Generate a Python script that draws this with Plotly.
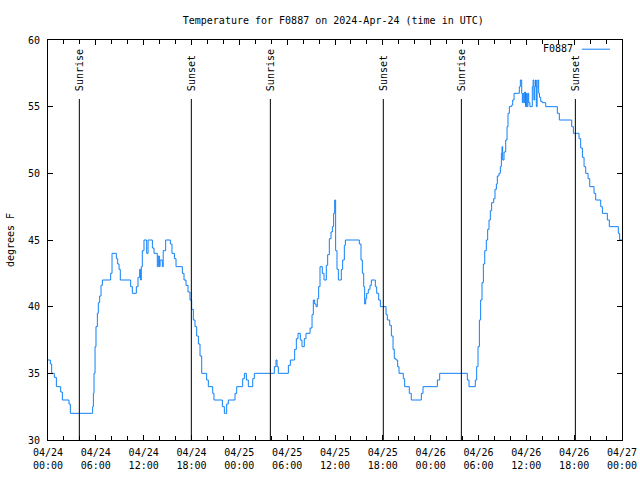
import pandas as pd
import plotly.graph_objects as go

# ---- data (hours after 2024-04-24 00:00 UTC, temperature in F) ----
hours = [
    0.00, 0.29, 0.46, 0.79, 1.05, 1.59, 1.80, 2.63, 2.80, 5.60, 5.69, 5.77, 5.90, 6.02, 6.19,
    6.31, 6.48, 6.65, 6.82, 7.86, 8.03, 8.57, 8.74, 8.91, 9.07, 10.37, 10.58, 11.08, 11.29, 11.50,
    11.62, 11.70, 11.83, 12.04, 12.38, 12.55, 13.09, 13.30, 13.71, 13.84, 13.97, 14.06, 14.34,
    14.45, 14.76, 15.35, 15.55, 15.85, 16.06, 16.85, 17.06, 17.31, 17.56, 17.81, 18.02,
    18.23, 18.44, 18.65, 18.86, 19.07, 19.28, 19.90, 20.11, 20.66, 20.82, 21.87, 22.12, 22.41, 22.62,
    23.46, 23.67, 24.42, 24.63, 24.88, 25.13, 25.68, 25.88, 28.39, 28.60, 28.73, 28.89, 30.15, 30.40,
    30.94, 31.15, 31.36, 31.65, 31.86, 32.15, 32.36, 32.87, 33.12, 33.28, 33.45, 33.62, 33.78, 33.95,
    34.12, 34.41, 34.62, 34.91, 35.08, 35.29, 35.50, 35.67, 35.83, 35.96, 36.08, 36.25, 36.42, 36.79,
    36.96, 37.17, 37.30, 39.05, 39.26, 39.43, 39.60, 39.72, 39.85, 39.97, 40.18, 40.39, 40.56, 41.06,
    41.23, 41.48, 41.69, 42.40, 42.56, 42.86, 43.07, 43.28, 43.44, 43.65, 43.86, 44.03, 44.57, 44.74,
    45.32, 45.57, 46.83, 47.04, 48.84, 49.13, 52.60, 52.81, 53.60, 53.77, 53.94, 54.11, 54.27, 54.44,
    54.61, 54.78, 54.98, 55.15, 55.32, 55.48, 55.65, 55.90, 56.07, 56.24, 56.36, 56.57, 56.74, 56.87,
    56.95, 57.03, 57.20, 57.41, 57.58, 57.70, 57.87, 58.12, 58.29, 58.46, 59.12, 59.25, 59.42, 59.50,
    59.60, 59.70, 59.80, 59.90, 60.00, 60.10, 60.20, 60.30, 60.45, 60.75, 60.85, 60.95, 61.05, 61.15,
    61.25, 61.35, 61.45, 61.55, 61.65, 61.80, 62.00, 62.43, 63.89, 64.14, 65.69, 65.90, 66.61, 66.82,
    67.03, 67.24, 67.45, 67.74, 67.95, 68.49, 68.70, 69.33, 69.54, 70.16, 70.41, 71.54, 71.71, 72.00,
]
temps = [
    36.0, 35.7, 35.0, 34.7, 34.0, 33.6, 33.0, 32.7, 32.0, 32.5, 33.5, 35.0, 37.0, 38.5, 39.5,
    40.3, 40.8, 41.6, 42.0, 42.5, 44.0, 43.6, 43.2, 42.8, 42.0, 41.5, 41.0, 41.5, 42.2, 42.8,
    42.0, 43.0, 44.2, 45.0, 44.0, 45.0, 44.4, 44.0, 43.0, 43.8, 43.0, 43.5, 43.0,
    44.2, 45.0, 44.7, 44.0, 43.6, 43.0, 42.5, 42.0, 41.6, 41.1, 40.5, 39.8,
    39.0, 38.5, 37.8, 37.2, 36.3, 35.0, 34.5, 34.0, 33.5, 33.0, 32.5, 32.0, 32.7, 33.0,
    33.5, 34.0, 34.6, 35.0, 34.5, 34.0, 34.6, 35.0, 35.5, 36.0, 35.5, 35.0, 35.6, 36.0,
    36.8, 37.6, 38.0, 37.5, 37.0, 37.6, 38.0, 38.4, 39.4, 40.5, 40.2, 40.0, 40.6, 41.5,
    43.0, 42.5, 42.0, 43.1, 43.9, 45.1, 45.6, 46.0, 47.0, 48.0, 44.2, 42.8, 42.0, 42.8,
    43.5, 44.6, 45.0, 44.7, 43.5, 42.5, 41.5, 40.2, 40.6, 41.0, 41.3, 41.6, 42.0, 41.5,
    41.0, 40.5, 40.0, 39.4, 39.0, 38.6, 37.8, 36.8, 36.1, 36.0, 35.5, 35.0, 34.6, 34.0,
    33.5, 33.0, 33.5, 34.0, 34.5, 35.0, 34.5, 34.0, 34.5, 35.5, 37.0, 39.0, 40.5, 41.8,
    43.2, 44.2, 45.0, 45.8, 46.5, 47.2, 47.8, 48.1, 48.8, 49.2, 49.8, 50.0, 50.5, 51.5,
    52.0, 51.0, 51.6, 52.5, 53.5, 54.5, 55.0, 55.1, 55.5, 56.0, 56.5, 57.0, 56.0, 55.3,
    56.0, 55.3, 56.1, 55.0, 56.0, 55.0, 56.0, 55.3, 55.0, 56.5, 57.0, 55.5, 56.5, 57.0,
    55.0, 56.5, 57.0, 56.0, 55.7, 55.4, 55.3, 55.0, 54.5, 54.0, 53.5, 53.0, 52.6, 51.9,
    51.2, 50.5, 50.0, 49.6, 49.0, 48.5, 48.0, 47.5, 47.0, 46.5, 46.0, 45.5, 45.0, 45.0,
]
sun_labels = ["Sunrise", "Sunset", "Sunrise", "Sunset", "Sunrise", "Sunset"]
sun_hours = [3.93, 17.98, 27.89, 42.06, 51.85, 66.15]
series_name = "F0887"
title_text = "Temperature for F0887 on 2024-Apr-24 (time in UTC)"
y_title = "degrees F"
y_ticks = [30, 35, 40, 45, 50, 55, 60]

base = pd.Timestamp("2024-04-24 00:00")
times = [base + pd.Timedelta(hours=h) for h in hours]
sun_times = [base + pd.Timedelta(hours=h) for h in sun_hours]

FONT = "DejaVu Sans Mono"
LINE_COLOR = "#1080f8"
fig = go.Figure()
fig.add_trace(go.Scatter(x=times, y=temps, mode="lines", line_shape="hv",
                         line=dict(color=LINE_COLOR, width=1), name=series_name,
                         showlegend=False, hoverinfo="skip"))

for lab, t in zip(sun_labels, sun_times):
    fig.add_shape(type="line", xref="x", yref="paper", x0=t, x1=t, y0=0, y1=0.8525,
                  line=dict(color="black", width=1))
    fig.add_annotation(x=t, xref="x", y=0.868, yref="paper", text=lab, textangle=-90,
                       showarrow=False, xanchor="center", yanchor="bottom",
                       font=dict(family=FONT, size=10, color="black"))

# legend drawn gnuplot-style: text then sample line
fig.add_annotation(x=0.918, xref="paper", y=0.978, yref="paper", text=series_name,
                   showarrow=False, xanchor="right", yanchor="middle",
                   font=dict(family=FONT, size=10, color="black"))
fig.add_shape(type="line", xref="paper", yref="paper", x0=0.930, x1=0.979, y0=0.977, y1=0.977,
              line=dict(color=LINE_COLOR, width=1))

# y axis title
fig.add_annotation(x=-0.066, xref="paper", y=0.5, yref="paper", text=y_title, textangle=-90,
                   showarrow=False, xanchor="center", yanchor="middle",
                   font=dict(family=FONT, size=10, color="black"))

fig.update_layout(
    width=640, height=480,
    margin=dict(l=48, r=18, t=40, b=40, autoexpand=False),
    paper_bgcolor="white", plot_bgcolor="white",
    title=dict(text=title_text, xref="paper", x=0.497, xanchor="center",
               yref="container", y=0.958, yanchor="middle",
               font=dict(family=FONT, size=10, color="black"), automargin=False),
    font=dict(family=FONT, size=10, color="black"),
    showlegend=False,
    hovermode=False,
)
fig.update_xaxes(
    range=[base, base + pd.Timedelta(hours=72)],
    tick0=base, dtick=6 * 3600 * 1000, tickformat="%m/%d<br>%H:%M",
    ticks="inside", ticklen=5, tickcolor="black", ticklabelstandoff=3,
    ticklabeloverflow="allow",
    minor=dict(dtick=2 * 3600 * 1000, ticks="inside", ticklen=4, tickcolor="black"),
    showline=True, linecolor="black", linewidth=1, mirror="ticks",
    showgrid=False, zeroline=False, automargin=False,
    tickfont=dict(family=FONT, size=10, color="black"),
)
fig.update_yaxes(
    range=[30, 60], tickvals=y_ticks, ticks="inside", ticklen=5, tickcolor="black",
    ticklabelstandoff=5,
    showline=True, linecolor="black", linewidth=1, mirror="ticks",
    showgrid=False, zeroline=False, automargin=False,
    tickfont=dict(family=FONT, size=10, color="black"),
)
fig.write_html(
    "out.html",
    config={"displayModeBar": False},
    post_script="document.body.style.margin='0';document.body.style.overflow='hidden';",
)
